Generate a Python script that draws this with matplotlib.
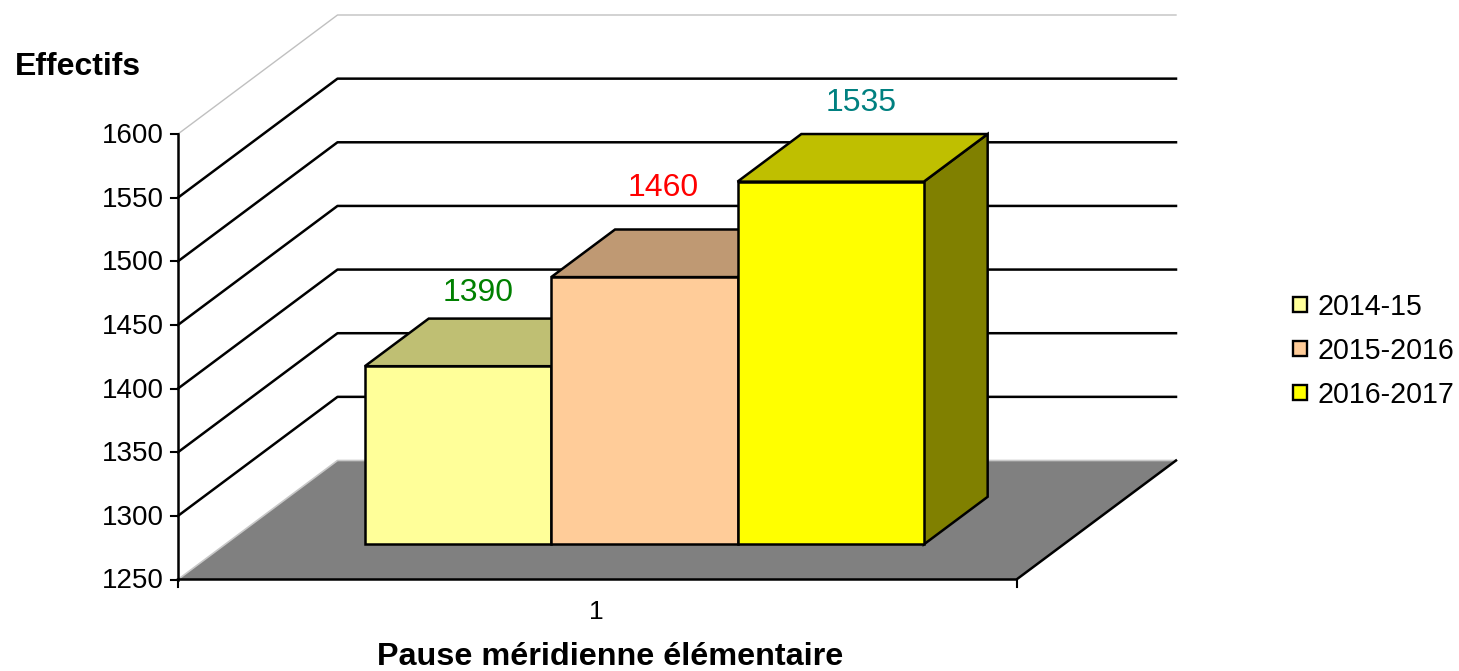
import matplotlib
matplotlib.use("Agg")
import matplotlib.pyplot as plt
from matplotlib.patches import Polygon

# valeurs
categories = ['2014-15', '2015-2016', '2016-2017']
values = [1390, 1460, 1535]
tick_values = [1250, 1300, 1350, 1400, 1450, 1500, 1550, 1600]

plt.rcParams['font.family'] = ['Liberation Sans', 'DejaVu Sans']

face_colors = ['#FFFF99', '#FFCC99', '#FFFF00']
top_colors = ['#BFBF73', '#BF9973', '#BFBF00']
label_colors = ['#008000', '#FF0000', '#008080']
label_offsets = [(20, -73), (19, -89), (30, -79)]

# repere 3D projete : x en categorie (0..1), v en valeur, d en profondeur (0..1)
X0, X1 = 178, 1016.5
Y_BASE, Y_TOP = 579.5, 134
DX, DY = 159.5, -119
V_MIN, V_MAX = tick_values[0], tick_values[-1]

def proj(x, v, d=0):
  px = X0 + (X1 - X0) * x + DX * d
  py = Y_BASE + (Y_TOP - Y_BASE) * (v - V_MIN) / (V_MAX - V_MIN) + DY * d
  return px, py

fig = plt.figure(figsize=(14.59, 6.71), dpi=100)
ax = fig.add_axes([0, 0, 1, 1])
ax.set_xlim(0, 1459)
ax.set_ylim(671, 0)
ax.axis('off')

# sol gris
floor = [proj(0, V_MIN), proj(1, V_MIN), proj(1, V_MIN, 1), proj(0, V_MIN, 1)]
ax.add_patch(Polygon(floor, closed=True, fc='#808080', ec='none', zorder=1))
ax.plot(*zip(proj(0, V_MIN), proj(0, V_MIN, 1), proj(1, V_MIN, 1)), color='#c8c8c8', lw=1.2, zorder=2)
ax.plot(*zip(proj(0, V_MIN), proj(1, V_MIN), proj(1, V_MIN, 1)), color='black', lw=1.8, zorder=2)

# grille sur les murs
for v in tick_values[1:]:
  color, lw = ('#c0c0c0', 1.0) if v == V_MAX else ('black', 1.8)
  ax.plot(*zip(proj(0, v), proj(0, v, 1), proj(1, v, 1)), color=color, lw=lw, zorder=2)

# axes et graduations
ax.plot(*zip(proj(0, V_MIN), proj(0, V_MAX)), color='black', lw=1.8, zorder=3)
for v in tick_values:
  x, y = proj(0, v)
  ax.plot([x - 7, x], [y, y], color='black', lw=1.5, zorder=3)
  ax.text(x - 14.5, y + 2, str(v), ha='right', va='center', fontsize=20, color='black')
for x_tick in [0, 1]:
  x, y = proj(x_tick, V_MIN)
  ax.plot([x, x], [y, y + 7], color='black', lw=1.5, zorder=3)
ax.text(proj(0.5, V_MIN)[0] - 1, 612, '1', ha='center', va='center', fontsize=19)

# barres
BAR_LEFT = 0.1668
BAR_WIDTH = 0.2222
BAR_D0 = 0.295
BAR_D1 = 0.695
for i, (val, face, top, lab) in enumerate(zip(values, face_colors, top_colors, label_colors)):
  x0 = BAR_LEFT + i * BAR_WIDTH
  x1 = x0 + BAR_WIDTH
  right = [proj(x1, V_MIN, BAR_D0), proj(x1, V_MIN, BAR_D1), proj(x1, val, BAR_D1), proj(x1, val, BAR_D0)]
  cap = [proj(x0, val, BAR_D0), proj(x1, val, BAR_D0), proj(x1, val, BAR_D1), proj(x0, val, BAR_D1)]
  front = [proj(x0, V_MIN, BAR_D0), proj(x1, V_MIN, BAR_D0), proj(x1, val, BAR_D0), proj(x0, val, BAR_D0)]
  z = 4 + i
  if i == 2:
    ax.add_patch(Polygon(right, closed=True, fc='#808000', ec='black', lw=1.8, zorder=z))
  ax.add_patch(Polygon(cap, closed=True, fc=top, ec='black', lw=1.8, zorder=z))
  ax.add_patch(Polygon(front, closed=True, fc=face, ec='black', lw=1.8, zorder=z))
  lx, ly = proj((x0 + x1) / 2, val, BAR_D0)
  ax.text(lx + label_offsets[i][0], ly + label_offsets[i][1], str(val), ha='center', va='center',
          fontsize=23, color=lab, zorder=10)

# titres
ax.text(77.5, 67, 'Effectifs', ha='center', va='center', fontsize=23, fontweight='bold')
ax.text(610, 657, 'Pause méridienne élémentaire', ha='center', va='center', fontsize=23.3, fontweight='bold')

# legende
for i, (name, face) in enumerate(zip(categories, face_colors)):
  y = 305 + i * 44
  ax.add_patch(Polygon([(1293, y - 8), (1307, y - 8), (1307, y + 7), (1293, y + 7)], closed=True,
                       fc=face, ec='black', lw=1.7, zorder=5))
  ax.text(1317.5, y + 2, name, ha='left', va='center', fontsize=20.6)

fig.savefig('out.png', dpi=100)
